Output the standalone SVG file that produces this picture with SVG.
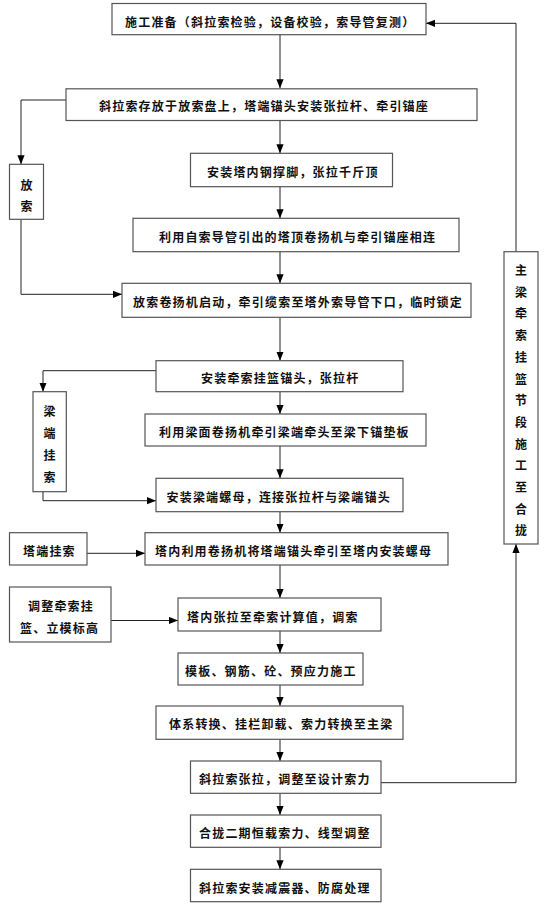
<svg xmlns="http://www.w3.org/2000/svg" width="553" height="908" viewBox="0 0 553 908">
<style>
rect{fill:#fff;stroke:#555;stroke-width:1.2}
text{font-family:"Noto Sans CJK SC","Liberation Sans",sans-serif;font-size:12px;font-weight:bold;letter-spacing:1.2px;fill:#111;dominant-baseline:central}
.c{text-anchor:middle;letter-spacing:0}
.ln{fill:none;stroke:#222;stroke-width:1}
</style>
<defs>
<marker id="ah" viewBox="0 0 10 8" refX="10" refY="4" markerWidth="9" markerHeight="8" markerUnits="userSpaceOnUse" orient="auto"><path d="M0,0 L10,4 L0,8 z" fill="#000"/></marker>
</defs>
<rect width="553" height="908" style="fill:#fff;stroke:none"/>
<g id="connectors">
<path class="ln" d="M280,34.7 V88.3" marker-end="url(#ah)"/>
<path class="ln" d="M66,100 H21 V164.3" marker-end="url(#ah)"/>
<path class="ln" d="M21,219.3 V294.3 H122" marker-end="url(#ah)"/>
<path class="ln" d="M280,120.5 V153.3" marker-end="url(#ah)"/>
<path class="ln" d="M280,186.7 V218.3" marker-end="url(#ah)"/>
<path class="ln" d="M280,251.7 V283.3" marker-end="url(#ah)"/>
<path class="ln" d="M280,317.3 V360.7" marker-end="url(#ah)"/>
<path class="ln" d="M156,370.7 H43 V391.7" marker-end="url(#ah)"/>
<path class="ln" d="M43,491.7 V500.7 H156" marker-end="url(#ah)"/>
<path class="ln" d="M280,391.7 V414" marker-end="url(#ah)"/>
<path class="ln" d="M280,446 V478.3" marker-end="url(#ah)"/>
<path class="ln" d="M280,511.7 V532.7" marker-end="url(#ah)"/>
<path class="ln" d="M87,553.3 H145" marker-end="url(#ah)"/>
<path class="ln" d="M280,565 V598" marker-end="url(#ah)"/>
<path class="ln" d="M111,620.5 H178" marker-end="url(#ah)"/>
<path class="ln" d="M280,631 V653" marker-end="url(#ah)"/>
<path class="ln" d="M280,685 V706" marker-end="url(#ah)"/>
<path class="ln" d="M280,739.3 V761" marker-end="url(#ah)"/>
<path class="ln" d="M381,782.7 H516 V544" marker-end="url(#ah)"/>
<path class="ln" d="M516,251.7 V23.3 H426" marker-end="url(#ah)"/>
<path class="ln" d="M280,793.3 V815" marker-end="url(#ah)"/>
<path class="ln" d="M280,847.3 V869.3" marker-end="url(#ah)"/>
</g>
<g id="n1"><rect x="112" y="3.5" width="314" height="31.2"/><text x="125" y="21">施工准备（斜拉索检验，设备校验，索导管复测）</text></g>
<g id="n2"><rect x="66" y="88.8" width="411" height="31.7"/><text x="99" y="105.5">斜拉索存放于放索盘上，塔端锚头安装张拉杆、牵引锚座</text></g>
<g id="n3"><rect x="190.5" y="153.3" width="202" height="33.4"/><text x="207" y="171.5">安装塔内钢撑脚，张拉千斤顶</text></g>
<g id="n4"><rect x="133" y="218.3" width="326" height="33.4"/><text x="159" y="236.5">利用自索导管引出的塔顶卷扬机与牵引锚座相连</text></g>
<g id="n5"><rect x="122" y="283.3" width="349" height="34"/><text x="133" y="301.8">放索卷扬机启动，牵引缆索至塔外索导管下口，临时锁定</text></g>
<g id="n6"><rect x="156" y="360.7" width="247" height="31"/><text x="201" y="377.5">安装牵索挂篮锚头，张拉杆</text></g>
<g id="n7"><rect x="145" y="414" width="281" height="32"/><text x="159" y="431.5">利用梁面卷扬机牵引梁端牵头至梁下锚垫板</text></g>
<g id="n8"><rect x="156" y="478.3" width="247" height="33.4"/><text x="166.5" y="496">安装梁端螺母，连接张拉杆与梁端锚头</text></g>
<g id="n9"><rect x="145" y="532.7" width="303" height="32.3"/><text x="155" y="550">塔内利用卷扬机将塔端锚头牵引至塔内安装螺母</text></g>
<g id="n10"><rect x="178" y="598" width="203" height="33"/><text x="187" y="616">塔内张拉至牵索计算值，调索</text></g>
<g id="n11"><rect x="178" y="653" width="185" height="32"/><text x="185" y="670">模板、钢筋、砼、预应力施工</text></g>
<g id="n12"><rect x="156" y="706" width="247" height="33.3"/><text x="169" y="723.5">体系转换、挂栏卸载、索力转换至主梁</text></g>
<g id="n13"><rect x="190.5" y="761" width="190.5" height="32.3"/><text x="199" y="778.5">斜拉索张拉，调整至设计索力</text></g>
<g id="n14"><rect x="190.5" y="815" width="190.5" height="32.3"/><text x="199" y="832.5">合拢二期恒载索力、线型调整</text></g>
<g id="n15"><rect x="190.5" y="869.3" width="190.5" height="32.4"/><text x="199" y="887">斜拉索安装减震器、防腐处理</text></g>
<g id="fangsuo"><rect x="9.5" y="164.3" width="34" height="55"/><text class="c" x="26.5" y="184.5">放</text><text class="c" x="26.5" y="205.5">索</text></g>
<g id="liangduan"><rect x="33" y="391.7" width="33.3" height="100"/><text class="c" x="49.5" y="410.5">梁</text><text class="c" x="49.5" y="432.5">端</text><text class="c" x="49.5" y="454.5">挂</text><text class="c" x="49.5" y="476.5">索</text></g>
<g id="taduan"><rect x="9.5" y="532.7" width="77.5" height="32.3"/><text x="23" y="550">塔端挂索</text></g>
<g id="tiaozheng"><rect x="9.5" y="587" width="101.5" height="55"/><text x="28" y="605.5">调整牵索挂</text><text x="20" y="627">篮、立模标高</text></g>
<g id="side"><rect x="504" y="251.7" width="34" height="292.3"/>
<text class="c" x="521" y="269.5">主</text><text class="c" x="521" y="291.2">梁</text><text class="c" x="521" y="312.9">牵</text><text class="c" x="521" y="334.6">索</text><text class="c" x="521" y="356.3">挂</text><text class="c" x="521" y="378">篮</text><text class="c" x="521" y="399.7">节</text><text class="c" x="521" y="421.4">段</text><text class="c" x="521" y="443.1">施</text><text class="c" x="521" y="464.8">工</text><text class="c" x="521" y="486.5">至</text><text class="c" x="521" y="508.2">合</text><text class="c" x="521" y="529.9">拢</text></g>
</svg>
